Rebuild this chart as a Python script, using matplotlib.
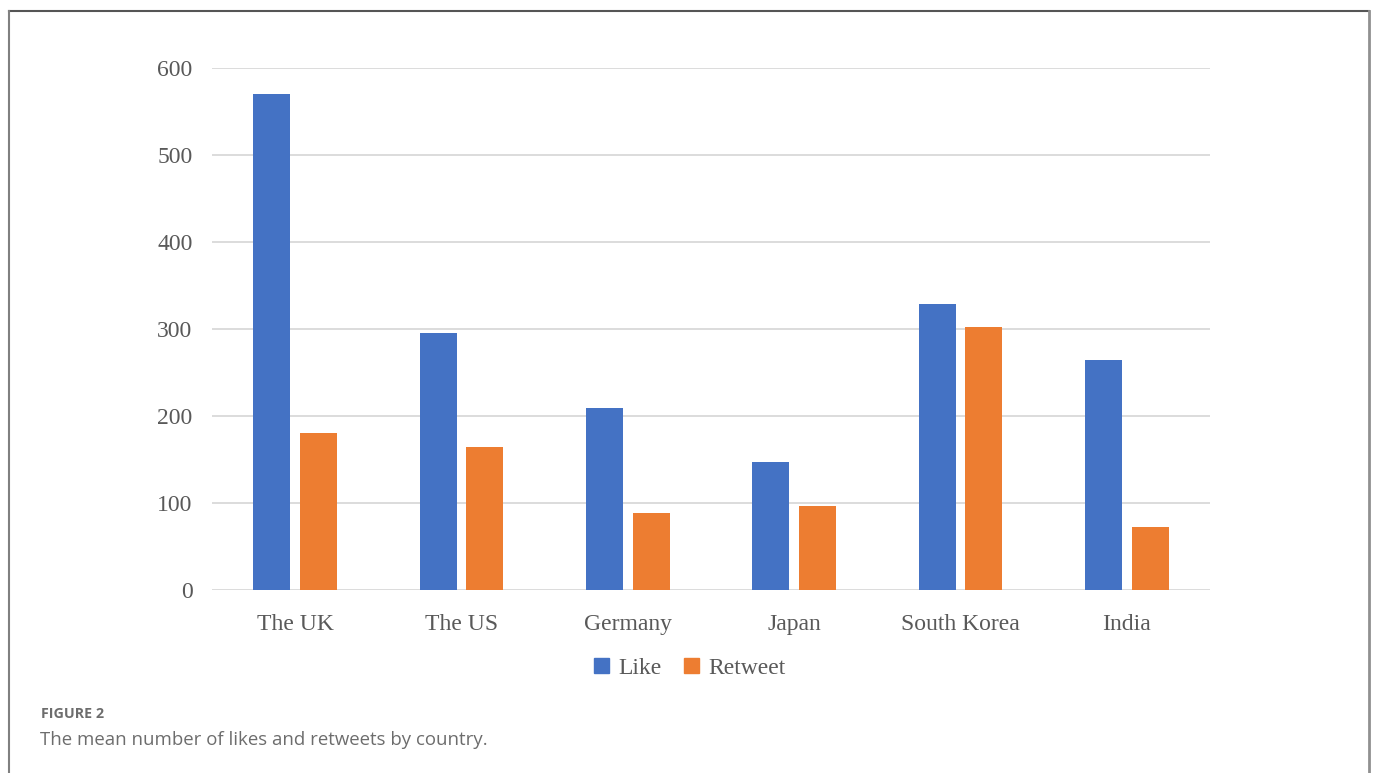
import matplotlib.pyplot as plt
import matplotlib.patches as mpatches
import numpy as np

countries = ["The UK", "The US", "Germany", "Japan", "South Korea", "India"]
likes = [570, 295, 209, 147, 329, 264]
retweets = [180, 164, 88, 96, 302, 72]
yticks = [0, 100, 200, 300, 400, 500, 600]

blue = "#4472C4"
orange = "#ED7D31"
txt = "#595959"

fig = plt.figure(figsize=(13.75, 7.73), dpi=100)
ax = fig.add_axes([212 / 1375, 1 - 590 / 773, 998 / 1375, 522 / 773])

x = np.arange(len(countries))
w = 0.222
ax.bar(x - 0.141, likes, w, color=blue, label="Like", zorder=3)
ax.bar(x + 0.141, retweets, w, color=orange, label="Retweet", zorder=3)

ax.set_xlim(-0.5, len(countries) - 0.5)
ax.set_ylim(0, 600)
ax.set_yticks(yticks)
ax.set_xticks(x)
ax.set_xticklabels(countries, family="Liberation Serif", fontsize=17, color=txt)
ax.set_yticklabels([str(t) for t in yticks], family="Liberation Serif", fontsize=17, color=txt)
ax.tick_params(length=0)
ax.tick_params(axis="x", pad=17)
ax.tick_params(axis="y", pad=14)
ax.grid(axis="y", color="#d9d9d9", linewidth=1.3, zorder=0)
for s in ax.spines.values():
    s.set_visible(False)

handles = [mpatches.Patch(color=blue, label="Like"), mpatches.Patch(color=orange, label="Retweet")]
fig.legend(handles=handles, loc="center", bbox_to_anchor=(690 / 1375, 1 - 668 / 773),
           ncol=2, frameon=False, prop={"family": "Liberation Serif", "size": 17},
           labelcolor=txt, handlelength=0.62, handleheight=0.62, handletextpad=0.4,
           columnspacing=0.95)

# outer frame (open at the bottom)
fx0, fx1, fy = 9 / 1375, 1369 / 1375, 1 - 11 / 773
fig.add_artist(plt.Line2D([fx0, fx1], [fy, fy], color="#555555", lw=1.5, transform=fig.transFigure))
fig.add_artist(plt.Line2D([fx0, fx0], [0, fy], color="#808080", lw=1.5, transform=fig.transFigure))
fig.add_artist(plt.Line2D([fx1, fx1], [0, fy], color="#909090", lw=2, transform=fig.transFigure))

fig.text(41 / 1375, 1 - 714 / 773, "FIGURE 2", family="Open Sans", fontsize=10.3,
         fontweight="bold", color="#6d6d6d", va="center")
fig.text(40 / 1375, 1 - 740 / 773, "The mean number of likes and retweets by country.",
         family="Open Sans", fontsize=13.4, color="#6d6d6d", va="center")

fig.savefig("out.png", dpi=100)
